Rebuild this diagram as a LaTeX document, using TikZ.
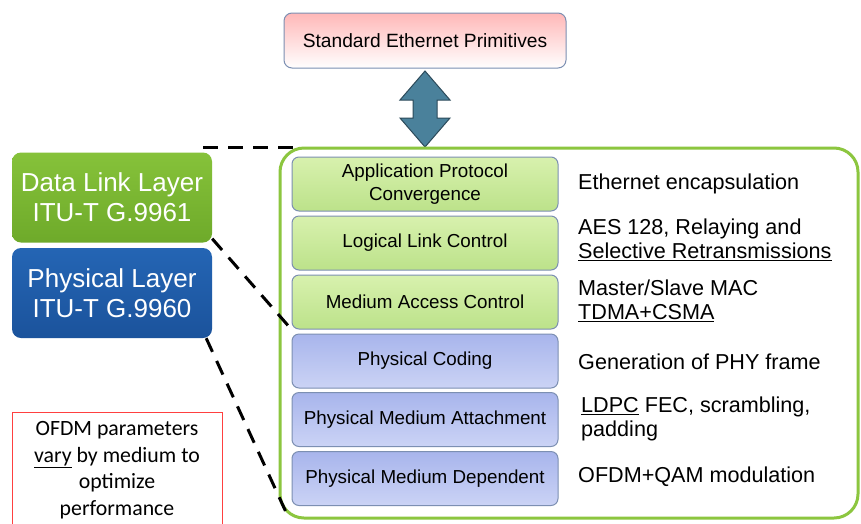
\documentclass[tikz,border=0pt]{standalone}
\usepackage{fontspec}
\setmainfont{Liberation Sans}
\newfontfamily\calibri{Carlito}
\usetikzlibrary{positioning}
\definecolor{layergreen}{HTML}{8CC63F}
\definecolor{dllgreenA}{HTML}{86C23A}
\definecolor{dllgreenB}{HTML}{6EAA2A}
\definecolor{phyblueA}{HTML}{2465B4}
\definecolor{phyblueB}{HTML}{1B539C}
\definecolor{stackgreenA}{HTML}{D8F1AE}
\definecolor{stackgreenB}{HTML}{BCE28A}
\definecolor{stackblueA}{HTML}{A8B5EC}
\definecolor{stackblueB}{HTML}{CBD3F5}
\definecolor{stackedge}{HTML}{7C8FB2}
\definecolor{arrowfill}{HTML}{4A819B}
\definecolor{arrowedge}{HTML}{2C4A5A}
\tikzset{
  x=1pt, y=-1pt,
  stackbox/.style={draw=stackedge, line width=1pt, rounded corners=7pt,
    minimum width=266pt, minimum height=54pt, inner sep=0pt, align=center,
    font=\fontsize{18.8}{22.5}\selectfont},
  greenbox/.style={stackbox, top color=stackgreenA, bottom color=stackgreenB},
  bluebox/.style={stackbox, top color=stackblueA, bottom color=stackblueB},
  layerbox/.style={rounded corners=9pt, minimum width=200pt, minimum height=90pt,
    inner sep=0pt, align=center, text=white,
    font=\fontsize{26}{30}\selectfont},
  notetext/.style={anchor=west, align=left, inner sep=0pt,
    font=\fontsize{21.6}{24}\selectfont},
  linkdash/.style={line width=3pt, dash pattern=on 15pt off 10pt},
}
\begin{document}
\begin{tikzpicture}
\useasboundingbox (0,0) rectangle (861,523);
\fill[white] (0,0) rectangle (861,523);

% top primitive box
\node[draw=stackedge, line width=1pt, rounded corners=8pt,
  top color=red!28!white, bottom color=white,
  minimum width=282pt, minimum height=55pt, inner sep=0pt,
  font=\fontsize{19.2}{22}\selectfont] (prim) at (425,40.5) {Standard Ethernet Primitives};

% double-headed block arrow
\draw[fill=arrowfill, draw=arrowedge, line width=1pt, line join=miter]
  (425,71) -- (450,100) -- (437,100) -- (437,118) -- (450,118) -- (425,147)
  -- (400,118) -- (413,118) -- (413,100) -- (400,100) -- cycle;

% outer frame of the stack
\node[draw=layergreen, line width=3pt, rounded corners=24pt, fill=white,
  minimum width=578pt, minimum height=370pt, inner sep=0pt] (frame) at (569,333) {};

% protocol stack
\node[greenbox] (apc) at (425,184) {Application Protocol\\Convergence};
\node[greenbox] (llc) at (425,243) {Logical Link Control};
\node[greenbox] (mac) at (425,302) {Medium Access Control};
\node[bluebox]  (pc)  at (425,361) {Physical Coding};
\node[bluebox]  (pma) at (425,419.5) {Physical Medium Attachment};
\node[bluebox]  (pmd) at (425,478.5) {Physical Medium Dependent};

% descriptions
\node[notetext] (d1) at (578,184) {Ethernet encapsulation};
\node[notetext] (d2) at (578,240) {AES 128, Relaying and\\\underline{Selective Retransmissions}};
\node[notetext] (d3) at (578,301) {Master/Slave MAC\\\underline{TDMA+CSMA}};
\node[notetext] (d4) at (578,362) {Generation of PHY frame};
\node[notetext] (d5) at (581,419) {\underline{LDPC} FEC, scrambling,\\padding};
\node[notetext] (d6) at (578,477) {OFDM+QAM modulation};

% layer boxes
\node[layerbox, top color=dllgreenA, bottom color=dllgreenB]
  (dll) at (112,197.5) {Data Link Layer\\ITU-T G.9961};
\node[layerbox, top color=phyblueA, bottom color=phyblueB]
  (phy) at (112,293) {Physical Layer\\ITU-T G.9960};

% note box
\node[draw=red!75!white, line width=1pt, minimum width=210pt, minimum height=130pt,
  inner sep=0pt] (note) at (117,477) {};
\node[align=center, inner sep=0pt, font=\calibri\fontsize{21.8}{26.5}\selectfont]
  (notetxt) at (117,470) {OFDM parameters\\\underline{vary} by medium to\\optimize\\performance};

% dashed leaders
\coordinate (dlltop) at (203,147);
\coordinate (frametop) at (293,147);
\draw[linkdash] (dlltop) -- (frametop);
\draw[linkdash] (dll.south east) ++(0,-4) -- (mac.south west);
\draw[linkdash] (phy.south east) ++(-6,0) -- ([xshift=-6pt,yshift=-5pt]pmd.south west);
\end{tikzpicture}
\end{document}
